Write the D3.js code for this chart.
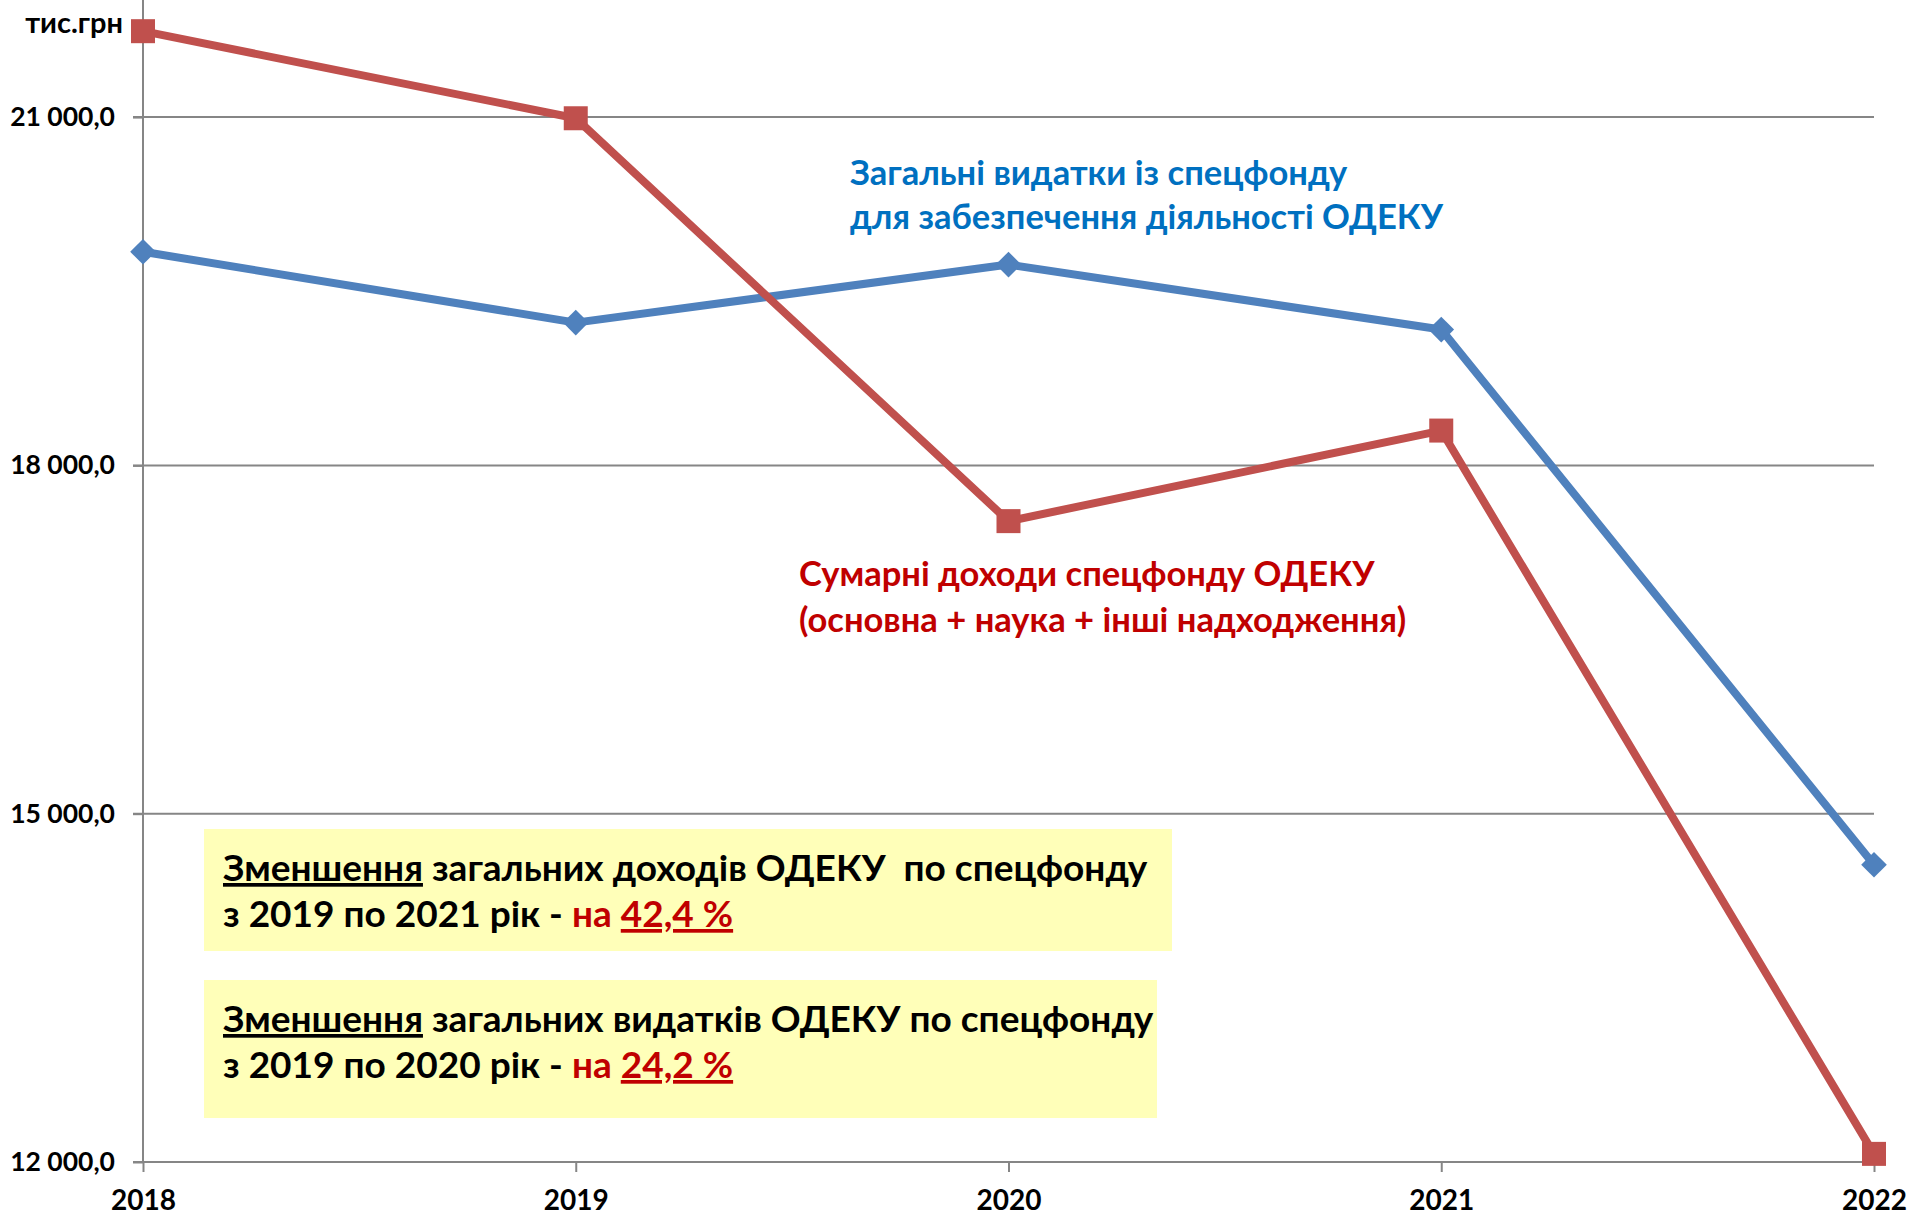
<!DOCTYPE html>
<html>
<head>
<meta charset="utf-8">
<script src="https://cdn.jsdelivr.net/npm/d3@7"></script>
<style>
  body { margin: 0; background: #fff; }
  svg { display: block; font-family: Lato, "Noto Sans", sans-serif; font-weight: bold; }
</style>
</head>
<body>
<svg id="chart" width="1909" height="1216"></svg>
<script>
// --- Data (тис.грн) ---
const years = ["2018", "2019", "2020", "2021", "2022"];
const incomeValues = [21740, 20990, 17520, 18300, 12070];   // Сумарні доходи спецфонду
const expenseValues = [19840, 19230, 19730, 19170, 14560];  // Загальні видатки із спецфонду
const yTicks = [12000, 15000, 18000, 21000];

const blueLabel = ["Загальні видатки із спецфонду", "для забезпечення діяльності ОДЕКУ"];
const redLabel = ["Сумарні доходи спецфонду ОДЕКУ", "(основна + наука + інші надходження)"];

// --- Layout ---
const plot = { left: 143, right: 1874, top: 1, bottom: 1162 };
const svg = d3.select("#chart");

const x = d3.scalePoint().domain(years).range([plot.left, plot.right]);
const y = d3.scaleLinear().domain([12000, 22000]).range([plot.bottom, plot.top]);

const uaFormat = d3.formatLocale({ decimal: ",", thousands: " ", grouping: [3], currency: ["", ""] }).format(",.1f");

const gridColor = "#868686";

// gridlines
svg.append("g")
    .selectAll("line")
    .data(yTicks)
    .join("line")
    .attr("x1", plot.left - 10)
    .attr("x2", plot.right)
    .attr("y1", d => y(d))
    .attr("y2", d => y(d))
    .attr("stroke", gridColor)
    .attr("stroke-width", 2);

// y axis
const yAxis = svg.append("g")
    .attr("transform", `translate(${plot.left},0)`)
    .call(d3.axisLeft(y).tickValues(yTicks).tickFormat(uaFormat).tickSize(10).tickPadding(18));
yAxis.select(".domain").remove();
yAxis.append("line")
    .attr("y1", 0).attr("y2", plot.bottom)
    .attr("stroke", gridColor).attr("stroke-width", 2);
yAxis.selectAll(".tick line").attr("stroke", gridColor).attr("stroke-width", 2);
yAxis.selectAll(".tick text")
    .style("font-size", "26.5px")
    .style("font-family", "Lato, sans-serif")
    .style("font-weight", "bold")
    .attr("fill", "#000");

// x axis
const xAxis = svg.append("g")
    .attr("transform", `translate(0,${plot.bottom})`)
    .call(d3.axisBottom(x).tickSize(10).tickSizeOuter(0));
xAxis.select(".domain").remove();
xAxis.selectAll(".tick line").attr("stroke", gridColor).attr("stroke-width", 2);
xAxis.selectAll(".tick text")
    .attr("y", 48).attr("dy", null)
    .style("font-size", "28px")
    .style("font-family", "Lato, sans-serif")
    .style("font-weight", "bold")
    .attr("fill", "#000");

// unit label
svg.append("text")
    .attr("x", 123).attr("y", 33)
    .attr("text-anchor", "end")
    .style("font-size", "29px")
    .text("тис.грн");

// --- Series ---
const line = d3.line().x((d, i) => x(years[i])).y(d => y(d));

// blue: expenses
svg.append("path")
    .datum(expenseValues)
    .attr("d", line)
    .attr("fill", "none")
    .attr("stroke", "#4F81BD")
    .attr("stroke-width", 8)
    .attr("stroke-linejoin", "round");

svg.append("g")
    .selectAll("path")
    .data(expenseValues)
    .join("path")
    .attr("d", d3.symbol(d3.symbolDiamond2, 420))
    .attr("transform", (d, i) => `translate(${x(years[i])},${y(d)})`)
    .attr("fill", "#4F81BD");

// red: income
svg.append("path")
    .datum(incomeValues)
    .attr("d", line)
    .attr("fill", "none")
    .attr("stroke", "#C0504D")
    .attr("stroke-width", 8)
    .attr("stroke-linejoin", "round");

svg.append("g")
    .selectAll("rect")
    .data(incomeValues)
    .join("rect")
    .attr("x", (d, i) => x(years[i]) - 12)
    .attr("y", d => y(d) - 12)
    .attr("width", 24)
    .attr("height", 24)
    .attr("fill", "#C0504D");

// --- Series labels ---
svg.append("text")
    .attr("fill", "#0070C0")
    .style("font-size", "34.5px")
    .selectAll("tspan")
    .data(blueLabel)
    .join("tspan")
    .attr("x", 850)
    .attr("y", (d, i) => 185 + i * 44)
    .text(d => d);

svg.append("text")
    .attr("fill", "#C00000")
    .style("font-size", "34.5px")
    .selectAll("tspan")
    .data(redLabel)
    .join("tspan")
    .attr("x", 799)
    .attr("y", (d, i) => 586 + i * 46)
    .text(d => d);

// --- Note boxes ---
const boxes = [
    { x: 204, y: 829, w: 968, h: 122, line1: "загальних доходів ОДЕКУ  по спецфонду", period: "з 2019 по 2021 рік - ", pct: "42,4 %" },
    { x: 204, y: 980, w: 953, h: 138, line1: "загальних видатків ОДЕКУ по спецфонду", period: "з 2019 по 2020 рік - ", pct: "24,2 %" }
];

boxes.forEach(b => {
    const g = svg.append("g");
    g.append("rect")
        .attr("x", b.x).attr("y", b.y)
        .attr("width", b.w).attr("height", b.h)
        .attr("fill", "#FFFFB9");

    const t1 = g.append("text")
        .attr("x", b.x + 19).attr("y", b.y + 52)
        .style("font-size", "37px")
        .style("white-space", "pre")
        .attr("fill", "#000");
    t1.append("tspan").style("text-decoration", "underline").text("Зменшення");
    t1.append("tspan").text(" " + b.line1);

    const t2 = g.append("text")
        .attr("x", b.x + 19).attr("y", b.y + 98)
        .style("font-size", "37px")
        .style("white-space", "pre")
        .attr("fill", "#000");
    t2.append("tspan").text(b.period);
    t2.append("tspan").attr("fill", "#C00000").text("на ");
    t2.append("tspan").attr("fill", "#C00000").style("text-decoration", "underline").text(b.pct);
});
</script>
</body>
</html>
